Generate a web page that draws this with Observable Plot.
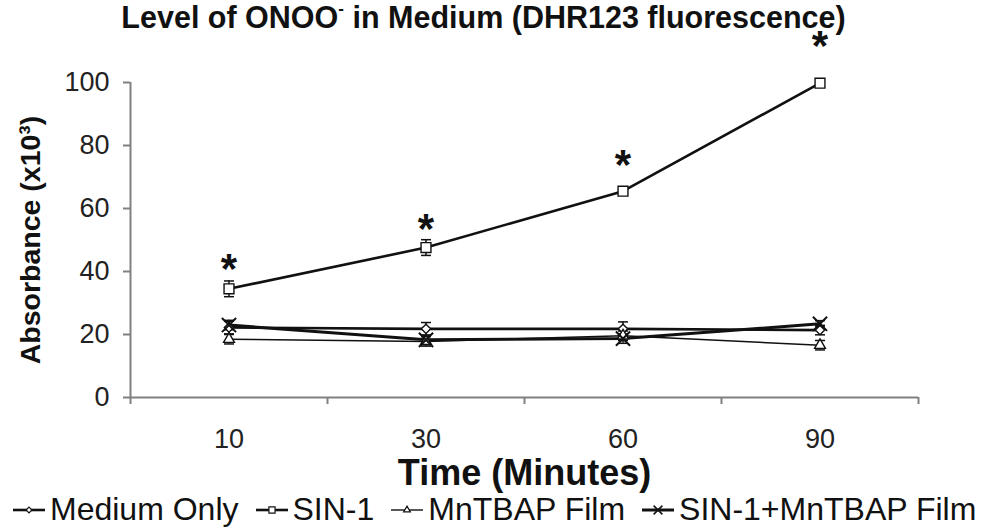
<!DOCTYPE html>
<html><head><meta charset="utf-8">
<script src="https://cdn.jsdelivr.net/npm/d3@7"></script>
<script src="https://cdn.jsdelivr.net/npm/@observablehq/plot@0.6"></script>
<style>
body{margin:0;background:#fff;font-family:"Liberation Sans",Arial,sans-serif;color:#111;width:981px;overflow:hidden;}
#title{height:40px;line-height:35px;font-size:30.5px;font-weight:bold;text-align:center;white-space:nowrap;padding-right:14px;}
#title sup{font-size:17px;vertical-align:14px;line-height:0;}
#legend{height:39px;display:flex;align-items:center;padding-left:12px;font-size:32px;white-space:nowrap;}
#legend .item{display:flex;align-items:center;margin-right:16px;}
#legend svg{margin-right:4px;}
</style></head><body>
<div id="title">Level of ONOO<sup>-</sup> in Medium (DHR123 fluorescence)</div>
<div id="chart"></div>
<div id="legend"></div>
<script>
// ---- data ----
const times = ["10", "30", "60", "90"];
const seriesNames = ["Medium Only", "SIN-1", "MnTBAP Film", "SIN-1+MnTBAP Film"];
const mediumOnly    = [22.2, 21.8, 21.8, 21.4];
const mediumOnlyErr = [2.0, 2.0, 2.2, 1.5];
const sin1          = [34.5, 47.6, 65.5, 99.8];
const sin1Err       = [2.5, 2.5, 0.8, 0.8];
const mntbap        = [18.5, 17.8, 19.6, 16.6];
const mntbapErr     = [1.5, 1.5, 1.5, 1.5];
const sin1Mntbap    = [23.0, 18.3, 18.7, 23.4];
const sin1MntbapErr = [1.5, 1.5, 1.5, 1.0];
const starY         = [43.8, 56.4, 76.8, 114.5];
const yTicks = [0, 20, 40, 60, 80, 100];

const seriesValues = [mediumOnly, sin1, mntbap, sin1Mntbap];
const seriesErrs = [mediumOnlyErr, sin1Err, mntbapErr, sin1MntbapErr];
const symbols = ["diamond2", "square2", "triangle2", "times"];
const radii = [4.2, 6.3, 5.2, 6.5];
const lineWidths = [2.6, 2.6, 1.4, 3];

const rows = seriesNames.map((name, s) => times.map((t, i) => ({
  series: name, s, xi: i + 0.5, y: seriesValues[s][i], lo: seriesValues[s][i] - seriesErrs[s][i], hi: seriesValues[s][i] + seriesErrs[s][i]
})));
const stars = times.map((t, i) => ({xi: i + 0.5, y: starY[i]}));

const cap = {draw(ctx) { ctx.moveTo(-5, 0); ctx.lineTo(5, 0); }};

const marks = [
  Plot.ruleY([0], {stroke: "#808080", strokeWidth: 2}),
  Plot.ruleX([0], {stroke: "#808080", strokeWidth: 2}),
  Plot.axisY({ticks: yTicks, tickSize: 7, tickPadding: 14, fontSize: 27, stroke: "#808080", strokeWidth: 2, label: null, fill: "#222"}),
  Plot.axisX({ticks: d3.range(times.length + 1), tickSize: 7, tickFormat: () => "", stroke: "#808080", strokeWidth: 2, label: null}),
  Plot.axisX({ticks: times.map((t, i) => i + 0.5), tickSize: 0, tickPadding: 31, tickFormat: d => times[Math.round(d - 0.5)], fontSize: 27, label: null, fill: "#222"}),
];
rows.forEach((r, s) => {
  marks.push(Plot.ruleX(r, {x: "xi", y1: "lo", y2: "hi", stroke: "#111", strokeWidth: 1.5}));
  marks.push(Plot.dot(r, {x: "xi", y: "lo", symbol: cap, stroke: "#111", strokeWidth: 1.5}));
  marks.push(Plot.dot(r, {x: "xi", y: "hi", symbol: cap, stroke: "#111", strokeWidth: 1.5}));
});
rows.forEach((r, s) => {
  marks.push(Plot.line(r, {x: "xi", y: "y", stroke: "#111", strokeWidth: lineWidths[s]}));
});
rows.forEach((r, s) => {
  marks.push(Plot.dot(r, {x: "xi", y: "y", symbol: symbols[s], r: radii[s], fill: s === 3 ? "none" : "white", stroke: "#111", strokeWidth: s === 3 ? 2 : 1.4}));
});
marks.push(Plot.text(stars, {x: "xi", y: "y", text: () => "*", fontSize: 42, fontWeight: "bold", fill: "#111", dy: 10}));
marks.push(Plot.text(["Time (Minutes)"], {frameAnchor: "bottom", lineAnchor: "bottom", dy: 87, fontSize: 36, fontWeight: "bold", fill: "#111"}));
marks.push(Plot.text(["Absorbance (x10³)"], {frameAnchor: "left", textAnchor: "middle", lineAnchor: "middle", rotate: -90, dx: -100, fontSize: 28.5, fontWeight: "bold", fill: "#111"}));

const chart = Plot.plot({
  width: 981, height: 450,
  marginLeft: 130, marginRight: 63, marginTop: 42, marginBottom: 93,
  style: {fontFamily: '"Liberation Sans", Arial, sans-serif', background: "white", overflow: "visible"},
  x: {type: "linear", domain: [0, times.length], axis: null},
  y: {domain: [0, 100], axis: null},
  marks
});
document.getElementById("chart").appendChild(chart);

// legend
const legend = document.getElementById("legend");
const symbolMap = {diamond2: d3.symbolDiamond2, square2: d3.symbolSquare2, triangle2: d3.symbolTriangle2, times: d3.symbolTimes};
seriesNames.forEach((name, s) => {
  const item = document.createElement("div");
  item.className = "item";
  const r = radii[s] * 0.62;
  const path = d3.symbol(symbolMap[symbols[s]], Math.PI * r * r)();
  item.innerHTML = `<svg width="34" height="20" viewBox="-17 -10 34 20"><line x1="-16" x2="16" y1="0" y2="0" stroke="#111" stroke-width="${lineWidths[s]}"/><path d="${path}" fill="${s === 3 ? "none" : "white"}" stroke="#111" stroke-width="${s === 3 ? 1.6 : 1.2}"/></svg><span>${name}</span>`;
  legend.appendChild(item);
});
</script>
</body></html>
